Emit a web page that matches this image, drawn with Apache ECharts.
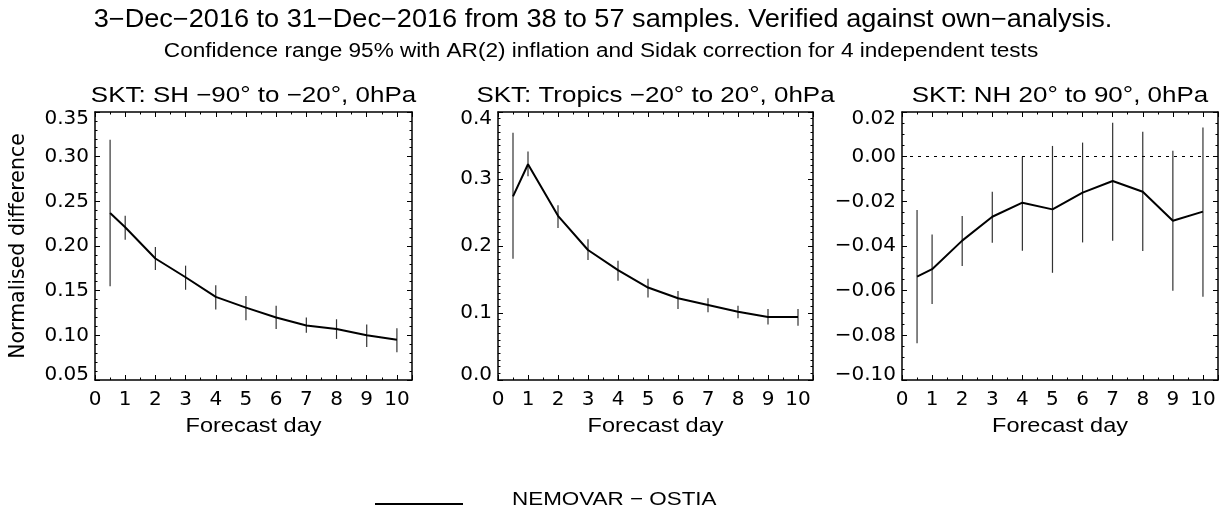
<!DOCTYPE html>
<html>
<head>
<meta charset="utf-8">
<script src="https://cdn.jsdelivr.net/npm/echarts@6/dist/echarts.min.js"></script>
<style>
html,body{margin:0;padding:0;background:#fff;}
#chart{width:1226px;height:513px;}
</style>
</head>
<body>
<div id="chart"></div>
<script>
// ---- data ----
const days = [0.5, 1, 2, 3, 4, 5, 6, 7, 8, 9, 10];
const xTicks = [0, 1, 2, 3, 4, 5, 6, 7, 8, 9, 10];

const shMean = [0.237, 0.221, 0.186, 0.165, 0.143, 0.131, 0.120, 0.111, 0.107, 0.100, 0.095];
const shLow  = [0.155, 0.207, 0.173, 0.151, 0.129, 0.117, 0.107, 0.103, 0.096, 0.087, 0.081];
const shHigh = [0.319, 0.234, 0.199, 0.178, 0.156, 0.144, 0.133, 0.120, 0.118, 0.112, 0.108];
const shTicks = [0.05, 0.10, 0.15, 0.20, 0.25, 0.30, 0.35];

const trMean = [0.274, 0.322, 0.245, 0.194, 0.164, 0.138, 0.122, 0.112, 0.102, 0.094, 0.094];
const trLow  = [0.181, 0.304, 0.227, 0.179, 0.148, 0.123, 0.106, 0.101, 0.092, 0.083, 0.081];
const trHigh = [0.369, 0.341, 0.261, 0.210, 0.178, 0.151, 0.133, 0.122, 0.111, 0.106, 0.106];
const trTicks = [0.0, 0.1, 0.2, 0.3, 0.4];

const nhMean = [-0.0537, -0.0504, -0.0376, -0.0269, -0.0206, -0.0236, -0.0161, -0.0109, -0.0157, -0.0287, -0.0246];
const nhLow  = [-0.0836, -0.0660, -0.0490, -0.0385, -0.0421, -0.0520, -0.0384, -0.0376, -0.0422, -0.0600, -0.0627];
const nhHigh = [-0.0239, -0.0348, -0.0266, -0.0157, 0.0000, 0.0048, 0.0063, 0.0152, 0.0112, 0.0027, 0.0131];
const nhTicks = [-0.10, -0.08, -0.06, -0.04, -0.02, 0.00, 0.02];

const panelTitles = ['SKT: SH \u221290\u00b0 to \u221220\u00b0, 0hPa', 'SKT: Tropics \u221220\u00b0 to 20\u00b0, 0hPa', 'SKT: NH 20\u00b0 to 90\u00b0, 0hPa'];
const seriesName = 'NEMOVAR \u2212 OSTIA';

// ---- layout ----
const FONT = 'DejaVu Sans';
const SANS = 'Liberation Sans';
const grids = [
  {left: 95, top: 112, width: 317, height: 268},
  {left: 498, top: 112, width: 315, height: 268},
  {left: 902, top: 112, width: 316, height: 268}
];
const panels = [
  {mean: shMean, low: shLow, high: shHigh, ticks: shTicks, dec: 2, minor: 5},
  {mean: trMean, low: trLow, high: trHigh, ticks: trTicks, dec: 1, minor: 10},
  {mean: nhMean, low: nhLow, high: nhHigh, ticks: nhTicks, dec: 2, minor: 4, zero: true}
];

const fmtMinus = s => String(s).replace('-', '\u2212');
const xAxes = [], yAxes = [], series = [], graphics = [];
const tickStyle = {color: '#000', width: 1};
const labFont = {fontFamily: FONT, fontSize: 20, color: '#000'};

panels.forEach((p, i) => {
  const xMin = xTicks[0], xMax = xTicks[xTicks.length - 1] + 0.5;
  const yMin = p.ticks[0], yMax = p.ticks[p.ticks.length - 1];
  const yInt = +(p.ticks[1] - p.ticks[0]).toFixed(6);
  const common = {
    gridIndex: i, type: 'value', splitLine: {show: false},
    axisLine: {show: true, onZero: false, lineStyle: {color: '#000', width: 1.5}},
    axisTick: {show: true, inside: true, length: 5, lineStyle: tickStyle},
    minorTick: {show: true, length: 2.5, lineStyle: tickStyle}
  };
  xAxes.push(Object.assign({}, common, {
    position: 'bottom', min: xMin, max: xMax, interval: 1,
    minorTick: Object.assign({}, common.minorTick, {splitNumber: 2}),
    axisLabel: Object.assign({show: true, margin: 10, customValues: xTicks, formatter: v => String(v)}, labFont)
  }));
  xAxes.push(Object.assign({}, common, {
    position: 'top', min: xMin, max: xMax, interval: 1,
    minorTick: Object.assign({}, common.minorTick, {splitNumber: 2}),
    axisLabel: {show: false}
  }));
  yAxes.push(Object.assign({}, common, {
    position: 'left', min: yMin, max: yMax, interval: yInt,
    minorTick: Object.assign({}, common.minorTick, {splitNumber: p.minor}),
    axisLabel: Object.assign({
      show: true, margin: 6, customValues: p.ticks,
      formatter: v => {
        const s = fmtMinus((+v).toFixed(p.dec));
        if (Math.abs(v - yMax) < 1e-9) return '{hi|' + s + '}';
        if (Math.abs(v - yMin) < 1e-9) return '{lo|' + s + '}';
        return s;
      },
      rich: {
        hi: Object.assign({padding: [13, 0, 0, 0]}, labFont),
        lo: Object.assign({padding: [0, 0, 10, 0]}, labFont)
      }
    }, labFont)
  }));
  yAxes.push(Object.assign({}, common, {
    position: 'right', min: yMin, max: yMax, interval: yInt,
    minorTick: Object.assign({}, common.minorTick, {splitNumber: p.minor}),
    axisLabel: {show: false}
  }));

  const line = {
    type: 'line', name: seriesName, xAxisIndex: 2 * i, yAxisIndex: 2 * i,
    data: days.map((d, k) => [d, p.mean[k]]),
    showSymbol: false, symbol: 'none',
    lineStyle: {color: '#000', width: 2}, silent: true, animation: false
  };
  if (p.zero) {
    line.markLine = {
      silent: true, symbol: ['none', 'none'], label: {show: false},
      lineStyle: {color: '#000', width: 1, type: [3, 5]},
      data: [{yAxis: 0}], animation: false
    };
  }
  series.push(line);
  series.push({
    type: 'custom', xAxisIndex: 2 * i, yAxisIndex: 2 * i, silent: true, animation: false,
    data: days.map((d, k) => [d, p.low[k], p.high[k]]),
    encode: {x: 0, y: [1, 2]},
    renderItem: (params, api) => {
      const a = api.coord([api.value(0), api.value(1)]);
      const b = api.coord([api.value(0), api.value(2)]);
      return {type: 'line', shape: {x1: a[0], y1: a[1], x2: b[0], y2: b[1]},
        style: {stroke: '#333', lineWidth: 1.2}};
    }
  });

  const g = grids[i];
  graphics.push({type: 'text', x: g.left + g.width / 2, y: 96, scaleX: 1.18,
    style: {text: panelTitles[i], font: '22px "' + SANS + '"', fill: '#000', align: 'center', verticalAlign: 'middle'}});
  graphics.push({type: 'text', x: g.left + g.width / 2, y: 426, scaleX: 1.12,
    style: {text: 'Forecast day', font: '21px "' + SANS + '"', fill: '#000', align: 'center', verticalAlign: 'middle'}});
});

graphics.push({type: 'text', x: 603, y: 20, scaleX: 1.085,
  style: {text: '3\u2212Dec\u22122016 to 31\u2212Dec\u22122016 from 38 to 57 samples. Verified against own\u2212analysis.',
    font: '25px "' + SANS + '"', fill: '#000', align: 'center', verticalAlign: 'middle'}});
graphics.push({type: 'text', x: 601, y: 51, scaleX: 1.13,
  style: {text: 'Confidence range 95% with AR(2) inflation and Sidak correction for 4 independent tests',
    font: '20px "' + SANS + '"', fill: '#000', align: 'center', verticalAlign: 'middle'}});
graphics.push({type: 'text', x: 19, y: 246, rotation: Math.PI / 2,
  style: {text: 'Normalised difference', font: '20.5px "' + FONT + '"', fill: '#000', align: 'center', verticalAlign: 'middle'}});
graphics.push({type: 'line', shape: {x1: 375, y1: 504, x2: 463, y2: 504}, style: {stroke: '#000', lineWidth: 2}});
graphics.push({type: 'text', x: 512, y: 500, scaleX: 1.18,
  style: {text: seriesName, font: '19px "' + SANS + '"', fill: '#000', align: 'left', verticalAlign: 'middle'}});

const chart = echarts.init(document.getElementById('chart'), null, {renderer: 'canvas'});
chart.setOption({
  backgroundColor: '#fff',
  animation: false,
  grid: grids,
  xAxis: xAxes,
  yAxis: yAxes,
  series: series,
  graphic: graphics
});
</script>
</body>
</html>
